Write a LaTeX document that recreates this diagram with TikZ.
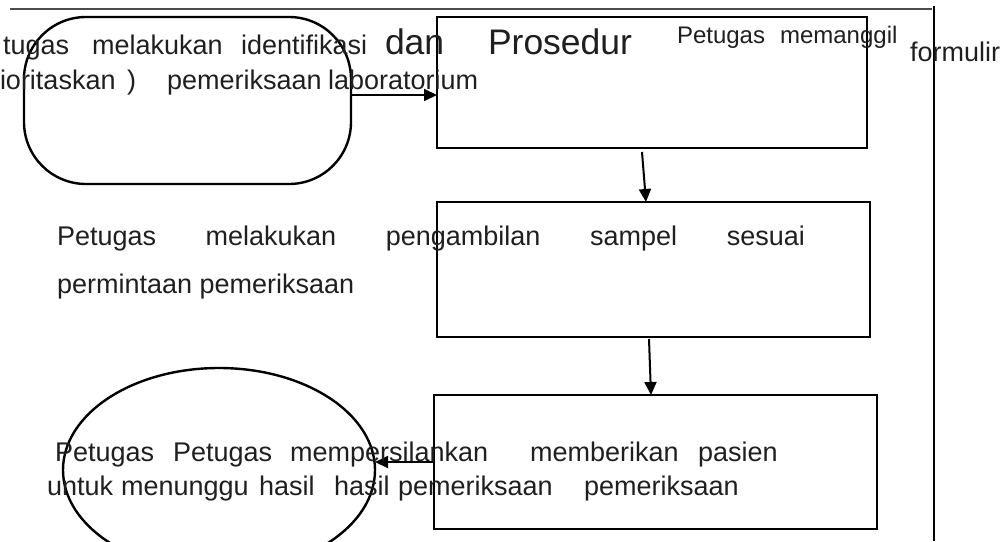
\documentclass[tikz,border=0pt]{standalone}
\usepackage{fontspec}
\setmainfont{Liberation Sans}
\usetikzlibrary{arrows.meta,calc,shapes.geometric}
\begin{document}
\begin{tikzpicture}[x=1pt,y=-1pt,
  boxline/.style={draw=black,line width=2.4pt,inner sep=0pt,outer sep=0pt},
  arr/.style={draw=black,line width=2pt,-{Triangle[length=13pt,width=12pt]}},
  txt/.style={inner sep=0pt,outer sep=0pt,anchor=base west,text=black!88},
  fA/.style={font=\fontsize{27}{32}\selectfont},
  fB/.style={font=\fontsize{35.5}{42}\selectfont},
  fC/.style={font=\fontsize{24}{29}\selectfont},
  rule/.style={line width=2.2pt}]
\useasboundingbox (0,0) rectangle (1007,541);
% frame lines
\coordinate (tl) at (10,9);
\coordinate (tr) at (932,9);
\coordinate (vt) at (934,6);
\coordinate (vb) at (934,541);
\draw[rule,draw=black!70] (tl) -- (tr);
\draw[rule,line width=2.6pt] (vt) -- (vb);
% shapes
\node[boxline,rectangle,rounded corners=62pt,minimum width=327pt,minimum height=167pt] (start) at (187.5,100.5) {};
\node[boxline,rectangle,minimum width=430pt,minimum height=131pt] (b1) at (652,82.5) {};
\node[boxline,rectangle,minimum width=433pt,minimum height=135pt] (b2) at (653.5,269.5) {};
\node[boxline,rectangle,minimum width=443pt,minimum height=134pt] (b3) at (655.5,462) {};
\node[boxline,ellipse,minimum width=312pt,minimum height=204pt] (end) at (219,470) {};
% connectors
\coordinate (y95) at (0,95);
\draw[arr] (start.east |- y95) -- (b1.west |- y95);
\draw[arr] ($(b1.south west)+(205,4)$) -- ($(b2.north west)+(209,0)$);
\draw[arr] ($(b2.south west)+(212,2)$) -- ($(b3.north west)+(217,0)$);
\draw[arr] (b3.west) -- (b3.west -| end.east);
% texts
\node[txt,fA] (t1) at (3,54) {tugas\hspace{23pt}melakukan\hspace{18.5pt}identifikasi};
\node[txt,fB] (t2) at (385,54) {dan};
\node[txt,fB] (t3) at (488,54) {Prosedur};
\node[txt,fC] (t4) at (677,43) {Petugas\hspace{15pt}memanggil};
\node[txt,fA] (t5) at (910,61) {formulir};
\node[txt,fA] (t6) at (0,89) {ioritaskan\hspace{11.5pt})\hspace{31pt}pemeriksaan\hspace{6.5pt}laboratorium};
\node[txt,fA] (t7) at (57,245) {\makebox[748pt][s]{Petugas melakukan pengambilan sampel sesuai}};
\node[txt,fA] (t8) at (57,293) {permintaan pemeriksaan};
\node[txt,fA] (t9) at (55,461) {Petugas\hspace{19pt}Petugas\hspace{18pt}mempersilankan\hspace{42pt}memberikan\hspace{19.5pt}pasien};
\node[txt,fA] (t10) at (47,495) {untuk\hspace{8pt}menunggu\hspace{10.4pt}hasil\hspace{19.5pt}hasil\hspace{8.5pt}pemeriksaan\hspace{31.5pt}pemeriksaan};
\end{tikzpicture}
\end{document}
